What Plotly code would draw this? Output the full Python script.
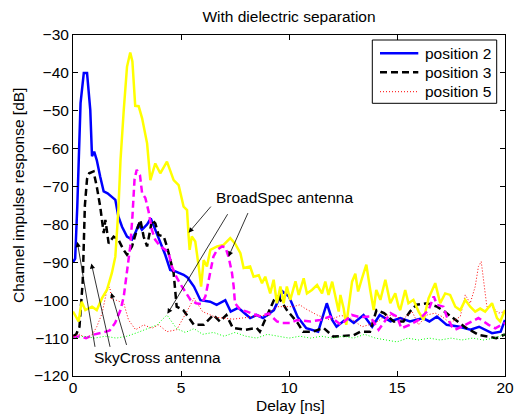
import plotly.graph_objects as go

# ---- data (delay in ns, response in dB) ----
sky2_x = [0, 0.1, 0.2, 0.35, 0.5, 0.65, 0.8, 0.88, 0.98, 1.1, 1.26, 1.42, 1.6, 1.96, 2.1, 2.27, 2.5, 2.73,
          2.88, 3.04, 3.19, 3.43, 3.6, 3.81, 4.04, 4.27, 4.5, 4.74, 5.12, 5.3, 5.6, 5.9, 6.35, 6.65, 7.05,
          7.3, 7.65, 8.2, 8.5, 8.8, 9.3, 9.7, 10.0, 10.4, 10.8, 11.35, 11.75, 12.0, 12.2, 12.7, 13.0, 13.45,
          13.85, 14.2, 14.7, 15.15, 15.6, 16.2, 16.5, 16.85, 17.3, 17.9, 18.4, 18.8, 19.4, 19.8, 20]
sky2_y = [-90, -89, -75, -48, -40, -40, -49.8, -62, -60.8, -63, -67.4, -71.3, -71.8, -73.5, -77.9, -80.6,
          -83.2, -84, -82.3, -80, -81.4, -80, -78.4, -81.4, -85, -88, -92, -92.4, -93.3, -94, -96.4, -100,
          -100.4, -101.2, -100, -103, -102, -104.7, -103.9, -104.7, -102.6, -97.7, -99, -104.4, -107.4,
          -108.3, -100.8, -105.2, -107, -104.7, -106, -103.9, -107, -103.9, -105.6, -104.7, -105.6, -104.7,
          -105.6, -104.3, -106.5, -107, -107.8, -107, -108.7, -108.3, -105.2]

sky3_x = [0, 0.15, 0.3, 0.45, 0.55, 0.65, 0.75, 0.95, 1.1, 1.26, 1.42, 1.5, 1.65, 1.88, 2.1, 2.34, 2.5,
          2.73, 2.96, 3.12, 3.27, 3.43, 3.66, 3.81, 3.96, 4.2, 4.35, 4.5, 4.66, 4.8, 5.1, 5.6, 6.05, 6.5,
          6.8, 7.1, 7.4, 8.0, 8.5, 8.65, 8.9, 9.3, 9.5, 9.9, 10.4, 10.65, 11.1, 11.6, 12.05, 12.5, 13.0,
          13.3, 13.75, 14.05, 14.4, 14.85, 15.3, 15.6, 15.9, 16.4, 16.85, 17.2, 17.8, 18.2, 18.8, 19.6, 20]
sky3_y = [-109.5, -109, -107, -95, -75, -68, -66.5, -66, -70, -75.3, -82.3, -78.8, -85, -83.2, -84, -86.7,
          -88, -85.8, -81.4, -78.8, -83.2, -85.8, -78.8, -79.7, -82.8, -83.2, -85.8, -89.4, -92.9, -101.7,
          -102.6, -106.5, -106.5, -103.9, -105.6, -103.9, -107.3, -107.8, -107.3, -108.3, -105.2, -100, -99,
          -102.6, -106, -108.3, -108.3, -107.3, -109.6, -109.4, -109.2, -108.3, -108.3, -102.6, -103.4,
          -105.6, -105.6, -103, -101.2, -100.8, -101.7, -103, -105.6, -107.3, -109.2, -110, -109]

sky5_x = [0, 0.3, 0.6, 0.9, 1.1, 1.35, 1.57, 1.7, 1.8, 2.0, 2.35, 2.57, 2.9, 3.27, 3.66, 3.96, 4.35, 4.8,
          5.27, 5.6, 6.0, 6.6, 7.4, 8.35, 8.98, 9.44, 10.2, 10.5, 10.75, 11.3, 11.9, 12.4, 12.84, 13.38,
          14.0, 14.53, 15.0, 15.23, 15.7, 16.0, 16.39, 16.77, 17.08, 17.46, 17.93, 18.16, 18.39, 18.62,
          18.77, 18.9, 19.05, 19.16, 19.4, 19.7, 20]
sky5_y = [-109.5, -109, -110, -109, -107, -103.4, -97.3, -96.5, -99.9, -100, -100.8, -105.2, -107.8, -106.5,
          -107.4, -106.5, -108.3, -107.8, -103, -99.5, -103, -104.5, -105, -104.3, -103.9, -101.7, -101.7,
          -101.2, -102.2, -103.9, -105.2, -104, -104.7, -107, -106, -103.9, -104.3, -105.2, -103, -106.5,
          -103.9, -103.4, -104.3, -106, -104.3, -98.6, -100.8, -96.4, -91.1, -89.8, -97.3, -101.7, -101.7,
          -103.4, -103]

bs2_x = [0, 0.1, 0.26, 0.4, 0.57, 0.88, 1.1, 1.35, 1.57, 1.8, 1.96, 2.1, 2.2, 2.35, 2.5, 2.65, 2.75, 2.88,
         3.04, 3.2, 3.43, 3.58, 3.81, 4.04, 4.35, 4.66, 4.89, 5.12, 5.28, 5.35, 5.4, 5.5, 5.66, 5.82, 5.93,
         6.05, 6.2, 6.36, 6.67, 6.97, 7.28, 7.5, 7.75, 7.9, 8.2, 8.36, 8.6, 8.75, 8.9, 9.13, 9.29, 9.44,
         9.6, 9.75, 9.9, 10.06, 10.3, 10.45, 10.68, 10.83, 11.06, 11.3, 11.53, 11.68, 11.83, 12.0, 12.14,
         12.3, 12.38, 12.53, 12.65, 12.76, 12.92, 13.07, 13.2, 13.38, 13.58, 13.76, 13.92, 14.04, 14.23,
         14.46, 14.69, 14.92, 15.07, 15.15, 15.38, 15.53, 15.76, 16.0, 16.23, 16.46, 16.77, 17.0, 17.23,
         17.46, 17.7, 17.93, 18.16, 18.39, 18.62, 18.85, 19.08, 19.4, 19.63, 19.78, 20]
bs2_y = [-103, -104, -105.6, -100.4, -102.6, -101.7, -102.6, -99.4, -97.3, -92.8, -88.5, -76.2, -63, -49.8,
         -38.4, -34.6, -37, -48.7, -48.8, -52, -58.6, -68.3, -63.9, -66.5, -63.4, -68.3, -69.6, -75.3,
         -76.2, -82.8, -86.7, -83.2, -84.5, -91.1, -96.4, -89.4, -91.1, -86.7, -85.8, -85.4, -83.6, -85,
         -87.6, -91.5, -91.1, -93.8, -93.4, -95.5, -93.8, -98.2, -94.6, -100.8, -96.4, -100.8, -96.4,
         -99.9, -95, -98.6, -94.2, -98.2, -97.3, -96, -98.2, -95.1, -98.6, -95.1, -99, -103, -98.6, -102.2,
         -106.5, -101.7, -95.1, -93, -97.7, -94.2, -90.6, -97.3, -102.6, -97.3, -99.9, -94.6, -100.8, -98.2,
         -101.7, -102.6, -97.3, -100.8, -99.9, -103, -105.2, -99.5, -95.5, -100.8, -98.2, -98.6, -101.7,
         -102.6, -99.9, -101.7, -103, -102.2, -103, -100.8, -104.7, -105.6, -102.6]

bs3_x = [0, 0.3, 0.6, 1.0, 1.4, 1.7, 1.95, 2.2, 2.35, 2.5, 2.65, 2.75, 2.85, 2.95, 3.1, 3.2, 3.35, 3.5, 3.65,
         3.8, 4.04, 4.27, 4.43, 4.58, 4.8, 5.0, 5.2, 5.45, 5.7, 5.95, 6.13, 6.36, 6.5, 6.67, 6.9, 7.05, 7.2,
         7.36, 7.44, 7.5, 7.75, 8.06, 8.44, 8.67, 9.06, 9.44, 9.67, 10.06, 10.37, 11.0, 11.45, 11.9, 12.4,
         12.9, 13.3, 13.76, 14.15, 14.7, 15.0, 15.2, 15.6, 16.0, 16.46, 16.7, 16.85, 17.15, 17.3, 17.55,
         17.7, 18.0, 18.47, 18.77, 19.24, 19.55, 20]
bs3_y = [-110, -109.5, -110, -109, -108.5, -108, -106, -102.6, -99, -92, -85.8, -78, -68, -65.6, -67, -71.8,
         -73, -76.6, -81.4, -84, -85.8, -86.7, -87.6, -91.1, -94, -96, -97.7, -100, -100.8, -101, -99,
         -92.9, -88.5, -86.7, -85.8, -86, -88.5, -92.8, -96.4, -100.8, -102.6, -103, -103.9, -104.3,
         -103.5, -105.6, -106, -106, -105.2, -105.6, -105.2, -104.3, -106.5, -103.9, -104.5, -104.3,
         -107.8, -103.4, -104.3, -107.4, -106.5, -105.2, -102.6, -99, -101.2, -101.7, -104.3, -107,
         -107.8, -107, -105.6, -104.7, -106.5, -107.4, -106]

bs5_x = [0, 0.5, 1.0, 1.5, 2.0, 2.5, 3.0, 3.5, 3.9, 4.15, 4.35, 4.55, 4.8, 5.2, 5.6, 6.0, 6.5, 7.0, 7.5,
         8.0, 8.5, 9.0, 9.5, 10.0, 10.5, 11.0, 11.5, 12.0, 12.5, 13.0, 13.5, 14.0, 14.5, 15.0, 15.5, 16.0,
         16.5, 17.0, 17.5, 18.0, 18.5, 19.0, 19.5, 20]
bs5_y = [-110, -109.5, -110, -109.5, -110, -109.5, -108.5, -107.5, -106.5, -105, -103.9, -105.5, -107.5,
         -108.5, -107.5, -109, -108.5, -109.5, -108.5, -109.5, -110, -109, -109.5, -110, -109.5, -110,
         -109.5, -110, -109.5, -110, -109, -110, -110.5, -111, -110, -110.5, -110, -110.5, -110, -110.5,
         -110, -110.5, -110, -109]

legend_names = ["position 2", "position 3", "position 5"]
x_ticks = [0, 5, 10, 15, 20]
y_ticks = [-120, -110, -100, -90, -80, -70, -60, -50, -40, -30]

FONT = "Liberation Sans, Arial, Helvetica, sans-serif"
FS = 15.5

# plot-area geometry (pixels)
L, R, T, B = 73, 505, 35, 376
PW, PH = R - L, B - T

def px(xp):
    return (xp - L) / PW

def py(yp):
    return (B - yp) / PH

styles = [dict(color="#0000ff", width=2.5),
          dict(color="#000000", width=2.5, dash="7px,4px"),
          dict(color="#ff0000", width=1, dash="1px,2px"),
          dict(color="#ffff00", width=2.5),
          dict(color="#ff00ff", width=2.5, dash="7px,4px"),
          dict(color="#00ff00", width=1, dash="1px,2px")]
series = [(sky2_x, sky2_y, legend_names[0]), (sky3_x, sky3_y, legend_names[1]),
          (sky5_x, sky5_y, legend_names[2]), (bs2_x, bs2_y, "BroadSpec position 2"),
          (bs3_x, bs3_y, "BroadSpec position 3"), (bs5_x, bs5_y, "BroadSpec position 5")]

fig = go.Figure()
for (xs, ys, nm), st in zip(series, styles):
    fig.add_trace(go.Scatter(x=xs, y=ys, mode="lines", name=nm, showlegend=False, line=st))

ann = []
shapes = []
# arrows: (tip_x, tip_y, tail_x, tail_y)
bs_arrows = [(5.35, -82.2, 6.44, -74.9), (4.37, -103.6, 7.2, -76.9), (7.2, -88.5, 8.13, -76.6)]
sc_arrows = [(0.2, -84.6, 1.03, -112.7), (0.85, -90.3, 1.73, -112.7), (1.77, -98.0, 2.5, -112.2)]
for tx, ty, sx, sy in bs_arrows + sc_arrows:
    ann.append(dict(x=tx, y=ty, ax=sx, ay=sy, xref="x", yref="y", axref="x", ayref="y",
                    text="", showarrow=True, arrowhead=2, arrowsize=1.3, arrowwidth=0.8,
                    arrowcolor="black"))
ann.append(dict(x=9.78, y=-73.0, xref="x", yref="y", text="BroadSpec antenna", showarrow=False,
                font=dict(family=FONT, size=FS, color="black"), xanchor="center", yanchor="middle"))
ann.append(dict(x=3.93, y=-115.2, xref="x", yref="y", text="SkyCross antenna", showarrow=False,
                font=dict(family=FONT, size=FS, color="black"), xanchor="center", yanchor="middle"))
# axis titles
ann.append(dict(x=px(18), y=py(196), xref="paper", yref="paper",
                text="Channel impulse response [dB]", showarrow=False, textangle=-90,
                xanchor="center", yanchor="middle",
                font=dict(family=FONT, size=FS, color="black")))
ann.append(dict(x=px(290), y=py(405), xref="paper", yref="paper",
                text="Delay [ns]", showarrow=False, xanchor="center", yanchor="middle",
                font=dict(family=FONT, size=FS, color="black")))

# legend (box, samples, labels)
shapes.append(dict(type="rect", xref="paper", yref="paper", x0=px(372.3), x1=px(496.7),
                   y0=py(103.3), y1=py(40), line=dict(color="black", width=1),
                   fillcolor="white", layer="above"))
leg_y = [53.3, 72.3, 91.7]
for i in range(3):
    shapes.append(dict(type="line", xref="paper", yref="paper", x0=px(380), x1=px(418.3),
                       y0=py(leg_y[i]), y1=py(leg_y[i]), line=styles[i], layer="above"))
    ann.append(dict(x=px(422.5), y=py(leg_y[i]), xref="paper", yref="paper",
                    text=legend_names[i], showarrow=False, xanchor="left", yanchor="middle",
                    font=dict(family=FONT, size=FS, color="black")))

fig.update_layout(
    width=514, height=415,
    margin=dict(l=L, r=514 - R, t=T, b=415 - B, pad=0),
    paper_bgcolor="white", plot_bgcolor="white",
    font=dict(family=FONT, size=FS, color="black"),
    title=dict(text="With dielectric separation", x=289 / 514, xanchor="center", y=1 - 17 / 415,
               yanchor="middle", font=dict(family=FONT, size=FS, color="black")),
    showlegend=False,
    xaxis=dict(range=[0, 20], tickvals=x_ticks, ticks="inside", ticklen=5, tickcolor="black",
               showline=True, linecolor="black", linewidth=1, mirror="ticks", showgrid=False,
               zeroline=False, automargin=False, ticklabelstandoff=-3,
               tickfont=dict(family=FONT, size=FS, color="black")),
    yaxis=dict(range=[-120, -30], tickvals=y_ticks, ticks="inside", ticklen=5, tickcolor="black",
               showline=True, linecolor="black", linewidth=1, mirror="ticks", showgrid=False,
               zeroline=False, automargin=False,
               tickfont=dict(family=FONT, size=FS, color="black")),
    annotations=ann,
    shapes=shapes,
)

fig.write_html("out.html", config={"displayModeBar": False},
               post_script="document.body.style.margin='0';document.body.style.padding='0';")
